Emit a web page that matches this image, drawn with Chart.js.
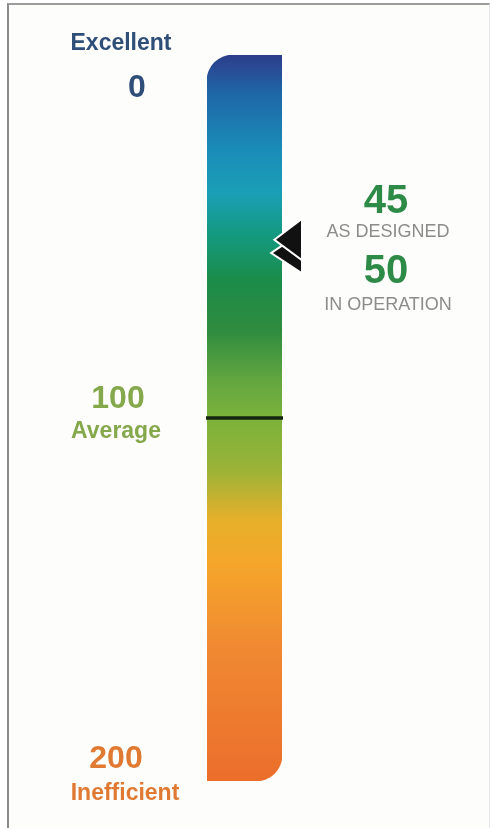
<!DOCTYPE html>
<html>
<head>
<meta charset="utf-8">
<script src="https://cdn.jsdelivr.net/npm/chart.js@4/dist/chart.umd.min.js"></script>
<style>
  html, body { margin: 0; padding: 0; background: #ffffff; width: 492px; height: 828px; overflow: hidden; }
  #frame { position: absolute; left: 7px; top: 3px; width: 480px; height: 830px;
           border-left: 2px solid #8a8a8a; border-top: 2px solid #9c9c9c; border-right: 1px solid #e6e6e6;
           background: #fdfdfb; }
  #c { position: absolute; left: 0; top: 0; }
</style>
</head>
<body>
<div id="frame"></div>
<canvas id="c" width="492" height="828"></canvas>
<script>
// ---- data ----
const categories = ['Energy rating'];
const barRange = [0, 200];
const tickValues = [0, 100, 200];
const tickNumbers = ['0', '100', '200'];
const tickWords = ['Excellent', 'Average', 'Inefficient'];
const markerValues = [45, 50];
const markerNumbers = ['45', '50'];
const markerLabels = ['AS DESIGNED', 'IN OPERATION'];
const averageValue = 100;

// ---- styles ----
const gradientStops = [
  [0.00, '#2d3d8a'], [0.05, '#1f65a6'], [0.13, '#1a8cb8'], [0.19, '#1a9fb6'],
  [0.25, '#14997e'], [0.31, '#1b8c4a'], [0.38, '#2f8c3e'], [0.45, '#64a740'],
  [0.50, '#7bb23b'], [0.57, '#9ab337'], [0.64, '#e6b02b'], [0.70, '#f5a62a'],
  [0.82, '#f08832'], [1.00, '#eb6e2b']
];
const tickColors = ['#2f4e78', '#86a84c', '#e07a33'];
const tickStyle = [ // dy relative to scale pixel, x centre
  { numDy: 42, wordDy: -5, numX: 137, wordX: 121 },
  { numDy: -10, wordDy: 20, numX: 118, wordX: 116 },
  { numDy: -13, wordDy: 19, numX: 116, wordX: 125 }
];
const markerTextStyle = [
  { numDy: -5, labelDy: 19 },
  { numDy: 46, labelDy: 73 }
];
const markerShape = [ // tip offset from scale pixel, tip inset from bar edge
  { tipDy: 21.5, tipInset: 6 },
  { tipDy: 16.5, tipInset: 9 }
];

const overlay = {
  id: 'overlay',
  afterDatasetsDraw(chart) {
    const ctx = chart.ctx;
    const y = chart.scales.y;
    const meta = chart.getDatasetMeta(0).data[0];
    const left = meta.x - meta.width / 2, right = meta.x + meta.width / 2;
    ctx.save();
    // average line
    const ya = y.getPixelForValue(averageValue);
    ctx.strokeStyle = '#14240f';
    ctx.lineWidth = 3.5;
    ctx.beginPath(); ctx.moveTo(left - 1, ya); ctx.lineTo(right + 1, ya); ctx.stroke();

    // left labels
    ctx.textAlign = 'center';
    ctx.textBaseline = 'alphabetic';
    tickValues.forEach((v, i) => {
      const py = y.getPixelForValue(v);
      const s = tickStyle[i];
      ctx.fillStyle = tickColors[i];
      ctx.font = 'bold 32px "Liberation Sans", Arial, sans-serif';
      ctx.fillText(tickNumbers[i], s.numX, py + s.numDy);
      ctx.font = 'bold 23px "Liberation Sans", Arial, sans-serif';
      ctx.fillText(tickWords[i], s.wordX, py + s.wordDy);
    });

    // markers (draw last one first so first overlaps)
    for (let i = markerValues.length - 1; i >= 0; i--) {
      const s = markerShape[i];
      const py = y.getPixelForValue(markerValues[i]) + s.tipDy;
      const tipX = right - s.tipInset;
      const backX = right + 19;
      ctx.beginPath();
      ctx.moveTo(tipX, py);
      ctx.lineTo(backX, py - 19);
      ctx.lineTo(backX, py + 18.5);
      ctx.closePath();
      ctx.lineJoin = 'miter';
      ctx.strokeStyle = '#ffffff';
      ctx.lineWidth = 4;
      ctx.stroke();
      ctx.fillStyle = '#111111';
      ctx.fill();
    }

    // right texts
    markerValues.forEach((v, i) => {
      const py = y.getPixelForValue(v);
      const s = markerTextStyle[i];
      ctx.fillStyle = '#2e8a47';
      ctx.font = 'bold 40px "Liberation Sans", Arial, sans-serif';
      ctx.fillText(markerNumbers[i], 386, py + s.numDy);
      ctx.fillStyle = '#8c8c8c';
      ctx.font = '18px "Liberation Sans", Arial, sans-serif';
      ctx.fillText(markerLabels[i], 388, py + s.labelDy);
    });
    ctx.restore();
  }
};

new Chart(document.getElementById('c'), {
  type: 'bar',
  data: {
    labels: categories,
    datasets: [{
      data: [barRange],
      backgroundColor(ctx) {
        const area = ctx.chart.chartArea;
        if (!area) return '#7bb23b';
        const g = ctx.chart.ctx.createLinearGradient(0, area.top, 0, area.bottom);
        gradientStops.forEach(([o, c]) => g.addColorStop(o, c));
        return g;
      },
      borderWidth: 0,
      borderSkipped: false,
      borderRadius: { topLeft: 26, topRight: 0, bottomLeft: 0, bottomRight: 26 },
      barPercentage: 1,
      categoryPercentage: 1
    }]
  },
  options: {
    responsive: false,
    animation: false,
    events: [],
    layout: { padding: { left: 207, right: 210, top: 55, bottom: 47 } },
    plugins: { legend: { display: false }, tooltip: { enabled: false } },
    scales: {
      x: { display: false },
      y: { display: false, min: 0, max: 200, reverse: true }
    }
  },
  plugins: [overlay]
});
</script>
</body>
</html>
